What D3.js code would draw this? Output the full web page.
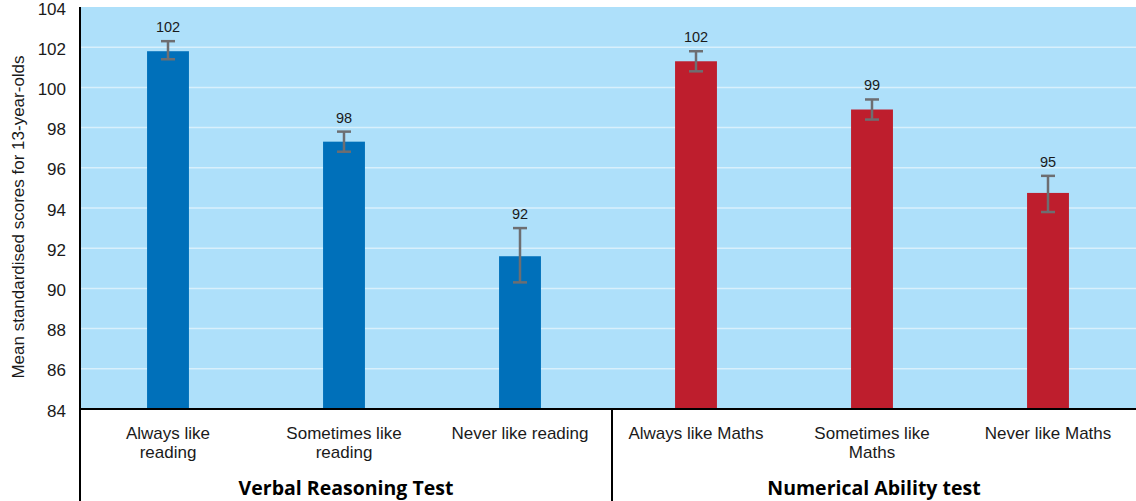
<!DOCTYPE html>
<html><head><meta charset="utf-8">
<script src="https://cdn.jsdelivr.net/npm/d3@7"></script>
<style>body{margin:0;background:#fff}svg{display:block;font-family:"Liberation Sans",Arial,sans-serif}</style>
</head><body><svg id="c" width="1136" height="501"></svg>
<script>
const categories = [["Always like","reading"],["Sometimes like","reading"],["Never like reading"],["Always like Maths"],["Sometimes like","Maths"],["Never like Maths"]];
const values = [101.8, 97.3, 91.6, 101.3, 98.9, 94.75];
const errLow = [101.4, 96.8, 90.3, 100.8, 98.4, 93.8];
const errHigh = [102.3, 97.8, 93.0, 101.8, 99.4, 95.6];
const valueLabels = ["102","98","92","102","99","95"];
const groups = ["Verbal Reasoning Test","Numerical Ability test"];
const groupOf = [0,0,0,1,1,1];
const yTicks = [84,86,88,90,92,94,96,98,100,102,104];
const colors = ["#0070ba","#be1e2d"];

const svg = d3.select("#c");
const L=80, R=1136, T=7, B=409;
const x = d3.scaleBand().domain(d3.range(6)).range([L,R]).paddingInner(0.762).paddingOuter(0.381);
const y = d3.scaleLinear().domain([84,104]).range([B,T]);

svg.append("rect").attr("x",L).attr("y",T).attr("width",R-L).attr("height",B-T).attr("fill","#aee0fa");
svg.append("g").selectAll("line").data(yTicks.filter(t=>t>84&&t<104)).join("line")
  .attr("x1",L).attr("x2",R).attr("y1",d=>y(d)).attr("y2",d=>y(d))
  .attr("stroke","#d8f0fc").attr("stroke-width",1.5);

svg.append("g").selectAll("rect").data(values).join("rect")
  .attr("x",(d,i)=>x(i)).attr("width",x.bandwidth())
  .attr("y",d=>y(d)).attr("height",d=>B-y(d))
  .attr("fill",(d,i)=>colors[groupOf[i]]);

const eb = svg.append("g").attr("stroke","#6d6e71").attr("stroke-width",2.5);
values.forEach((v,i)=>{
  const cx = x(i)+x.bandwidth()/2;
  eb.append("line").attr("x1",cx).attr("x2",cx).attr("y1",y(errHigh[i])).attr("y2",y(errLow[i]));
  eb.append("line").attr("x1",cx-7).attr("x2",cx+7).attr("y1",y(errHigh[i])).attr("y2",y(errHigh[i]));
  eb.append("line").attr("x1",cx-7).attr("x2",cx+7).attr("y1",y(errLow[i])).attr("y2",y(errLow[i]));
});

svg.append("g").selectAll("text").data(valueLabels).join("text")
  .attr("x",(d,i)=>x(i)+x.bandwidth()/2).attr("y",(d,i)=>y(errHigh[i])-9)
  .attr("text-anchor","middle").attr("font-size",14.5).attr("fill","#1a1a1a").text(d=>d);

// y axis
const ya = svg.append("g").attr("transform",`translate(${L},0)`)
  .call(d3.axisLeft(y).tickValues(yTicks).tickSize(0).tickPadding(14));
ya.select(".domain").remove();
ya.selectAll("text").attr("font-size",17).attr("fill","#1a1a1a").attr("dy","0.42em")
  .attr("font-family","Liberation Sans, Arial, sans-serif");
svg.append("line").attr("x1",L).attr("x2",L).attr("y1",T).attr("y2",501).attr("stroke","#000").attr("stroke-width",2);
svg.append("line").attr("x1",L).attr("x2",R).attr("y1",B).attr("y2",B).attr("stroke","#000").attr("stroke-width",2);
svg.append("line").attr("x1",612).attr("x2",612).attr("y1",B).attr("y2",501).attr("stroke","#000").attr("stroke-width",2);

svg.append("text").attr("transform","translate(24,217) rotate(-90)")
  .attr("text-anchor","middle").attr("font-size",17).attr("fill","#1a1a1a")
  .text("Mean standardised scores for 13-year-olds");

// category labels
const cl = svg.append("g").selectAll("text").data(categories).join("text")
  .attr("x",(d,i)=>x(i)+x.bandwidth()/2).attr("y",439)
  .attr("text-anchor","middle").attr("font-size",17).attr("fill","#1a1a1a");
cl.selectAll("tspan").data(d=>d).join("tspan")
  .attr("x",function(){return this.parentNode.getAttribute("x");})
  .attr("dy",(d,j)=>j?19:0).text(d=>d);

// group labels
const gx = [(L+612)/2,(612+R)/2];
svg.append("g").selectAll("text").data(groups).join("text")
  .attr("x",(d,i)=>gx[i]).attr("y",495).attr("text-anchor","middle")
  .attr("font-family","'Open Sans', sans-serif")
  .attr("font-size",19.5).attr("font-weight","bold").attr("fill","#000").text(d=>d);
</script></body></html>
